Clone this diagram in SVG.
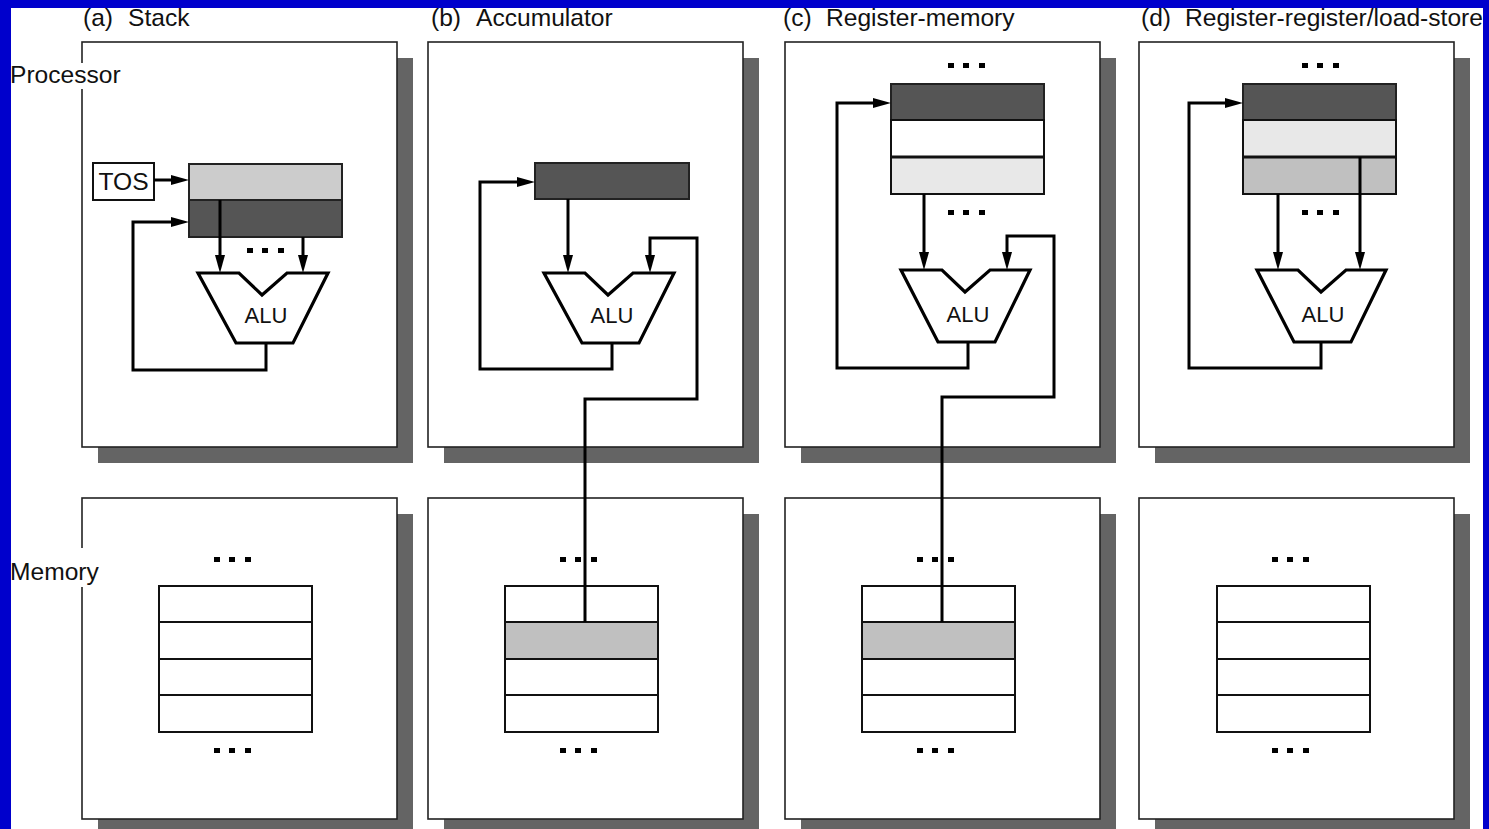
<svg xmlns="http://www.w3.org/2000/svg" width="1489" height="829" viewBox="0 0 1489 829">
  <defs>
    <style>
      .frame { fill: #0000cc; }
      .shadow { fill: #646464; }
      .box { fill: #ffffff; stroke: #222222; stroke-width: 1.6; }
      .cell { fill: #ffffff; stroke: #111111; stroke-width: 2; }
      .dark { fill: #555555; stroke: #222222; stroke-width: 2; }
      .light { fill: #cccccc; stroke: #222222; stroke-width: 2; }
      .pale { fill: #e8e8e8; stroke: #111111; stroke-width: 2; }
      .mid { fill: #c0c0c0; stroke: #111111; stroke-width: 2; }
      .sep { stroke: #111111; stroke-width: 3; }
      .alu { fill: #ffffff; stroke: #000000; stroke-width: 3.2; stroke-linejoin: miter; }
      .wire { fill: none; stroke: #000000; stroke-width: 3; stroke-linejoin: miter; }
      .dot { fill: #000000; }
      .label { font-family: "Liberation Sans", Arial, Helvetica, sans-serif; font-size: 24.6px; fill: #111111; }
      .alutext { font-family: "Liberation Sans", Arial, Helvetica, sans-serif; font-size: 22px; fill: #111111; text-anchor: middle; }
      .gap { fill: #ffffff; }
    </style>
    <marker id="head" markerUnits="userSpaceOnUse" markerWidth="20" markerHeight="12" viewBox="0 0 20 12" refX="1" refY="6" orient="auto">
      <path d="M0,1 L18,6 L0,11 z" fill="#000000"/>
    </marker>
    <g id="dots3">
      <rect class="dot" x="0" y="0" width="6" height="5"/>
      <rect class="dot" x="15" y="0" width="6" height="5"/>
      <rect class="dot" x="31" y="0" width="6" height="5"/>
    </g>
  </defs>

  <rect x="0" y="0" width="1489" height="829" fill="#ffffff"/>

  <!-- shadows and outer boxes -->
  <g id="processor-a">
    <rect class="shadow" x="98" y="58" width="315" height="405"/>
    <rect class="box" x="82" y="42" width="315" height="405"/>
  </g>
  <g id="processor-b">
    <rect class="shadow" x="444" y="58" width="315" height="405"/>
    <rect class="box" x="428" y="42" width="315" height="405"/>
  </g>
  <g id="processor-c">
    <rect class="shadow" x="801" y="58" width="315" height="405"/>
    <rect class="box" x="785" y="42" width="315" height="405"/>
  </g>
  <g id="processor-d">
    <rect class="shadow" x="1155" y="58" width="315" height="405"/>
    <rect class="box" x="1139" y="42" width="315" height="405"/>
  </g>
  <g id="memory-a">
    <rect class="shadow" x="98" y="514" width="315" height="321"/>
    <rect class="box" x="82" y="498" width="315" height="321"/>
  </g>
  <g id="memory-b">
    <rect class="shadow" x="444" y="514" width="315" height="321"/>
    <rect class="box" x="428" y="498" width="315" height="321"/>
  </g>
  <g id="memory-c">
    <rect class="shadow" x="801" y="514" width="315" height="321"/>
    <rect class="box" x="785" y="498" width="315" height="321"/>
  </g>
  <g id="memory-d">
    <rect class="shadow" x="1155" y="514" width="315" height="321"/>
    <rect class="box" x="1139" y="498" width="315" height="321"/>
  </g>

  <!-- titles and row labels -->
  <g id="titles">
    <text class="label" x="83" y="26">(a)<tspan x="128">Stack</tspan></text>
    <text class="label" x="431" y="26">(b)<tspan x="476">Accumulator</tspan></text>
    <text class="label" x="783" y="26">(c)<tspan x="826">Register-memory</tspan></text>
    <text class="label" x="1141" y="26">(d)<tspan x="1185">Register-register/load-store</tspan></text>
  </g>
  <g id="row-processor">
    <rect class="gap" x="78" y="63" width="8" height="26"/>
    <text class="label" x="10" y="83">Processor</text>
  </g>
  <g id="row-memory">
    <rect class="gap" x="78" y="548" width="8" height="39"/>
    <text class="label" x="10" y="580">Memory</text>
  </g>

  <!-- (a) stack machine -->
  <g id="tos">
    <rect class="cell" x="93" y="163" width="61" height="37"/>
    <text class="label" x="123.5" y="190" text-anchor="middle">TOS</text>
  </g>
  <g id="stack-a">
    <rect class="light" x="189" y="164" width="153" height="36"/>
    <rect class="dark" x="189" y="200" width="153" height="37"/>
    <use href="#dots3" x="247" y="248"/>
  </g>
  <g id="alu-a">
    <polygon class="alu" points="198,273 239,273 262,295 287,273 328,273 293,343 236,343"/>
    <text class="alutext" x="266" y="323">ALU</text>
  </g>
  <g id="cells-a">
    <use href="#dots3" x="214" y="557"/>
    <rect class="cell" x="159" y="586" width="153" height="36"/>
    <rect class="cell" x="159" y="622" width="153" height="37"/>
    <rect class="cell" x="159" y="659" width="153" height="36"/>
    <rect class="cell" x="159" y="695" width="153" height="37"/>
    <use href="#dots3" x="214" y="748"/>
  </g>

  <!-- (b) accumulator machine -->
  <g id="acc-b">
    <rect class="dark" x="535" y="163" width="154" height="36"/>
  </g>
  <g id="alu-b">
    <polygon class="alu" points="544,273 585,273 608,295 633,273 674,273 639,343 582,343"/>
    <text class="alutext" x="612" y="323">ALU</text>
  </g>
  <g id="cells-b">
    <use href="#dots3" x="560" y="557"/>
    <rect class="cell" x="505" y="586" width="153" height="36"/>
    <rect class="mid" x="505" y="622" width="153" height="37"/>
    <rect class="cell" x="505" y="659" width="153" height="36"/>
    <rect class="cell" x="505" y="695" width="153" height="37"/>
    <use href="#dots3" x="560" y="748"/>
  </g>

  <!-- (c) register-memory machine -->
  <g id="regs-c">
    <use href="#dots3" x="948" y="63"/>
    <rect class="dark" x="891" y="84" width="153" height="36"/>
    <rect class="cell" x="891" y="120" width="153" height="37"/>
    <rect class="pale" x="891" y="157" width="153" height="37"/>
    <line class="sep" x1="891" y1="157" x2="1044" y2="157"/>
    <use href="#dots3" x="948" y="210"/>
  </g>
  <g id="alu-c">
    <polygon class="alu" points="901,270 942,270 965,292 990,270 1030,270 995,342 938,342"/>
    <text class="alutext" x="968" y="322">ALU</text>
  </g>
  <g id="cells-c">
    <use href="#dots3" x="917" y="557"/>
    <rect class="cell" x="862" y="586" width="153" height="36"/>
    <rect class="mid" x="862" y="622" width="153" height="37"/>
    <rect class="cell" x="862" y="659" width="153" height="36"/>
    <rect class="cell" x="862" y="695" width="153" height="37"/>
    <use href="#dots3" x="917" y="748"/>
  </g>

  <!-- (d) load-store machine -->
  <g id="regs-d">
    <use href="#dots3" x="1302" y="63"/>
    <rect class="dark" x="1243" y="84" width="153" height="36"/>
    <rect class="pale" x="1243" y="120" width="153" height="37"/>
    <rect class="mid" x="1243" y="157" width="153" height="37"/>
    <line class="sep" x1="1243" y1="157" x2="1396" y2="157"/>
    <use href="#dots3" x="1302" y="210"/>
  </g>
  <g id="alu-d">
    <polygon class="alu" points="1257,270 1298,270 1321,292 1346,270 1386,270 1351,342 1294,342"/>
    <text class="alutext" x="1323" y="322">ALU</text>
  </g>
  <g id="cells-d">
    <use href="#dots3" x="1272" y="557"/>
    <rect class="cell" x="1217" y="586" width="153" height="36"/>
    <rect class="cell" x="1217" y="622" width="153" height="37"/>
    <rect class="cell" x="1217" y="659" width="153" height="36"/>
    <rect class="cell" x="1217" y="695" width="153" height="37"/>
    <use href="#dots3" x="1272" y="748"/>
  </g>

  <!-- data paths -->
  <g id="connectors">
    <!-- (a) -->
    <path class="wire" d="M154,180 H172" marker-end="url(#head)"/>
    <path class="wire" d="M220,200 V256" marker-end="url(#head)"/>
    <path class="wire" d="M303,237 V256" marker-end="url(#head)"/>
    <path class="wire" d="M266,343 V370 H133 V222 H172" marker-end="url(#head)"/>
    <!-- (b) -->
    <path class="wire" d="M568,199 V256" marker-end="url(#head)"/>
    <path class="wire" d="M612,343 V369 H480 V182 H518" marker-end="url(#head)"/>
    <path class="wire" d="M585,622 V399 H697 V238 H650 V256" marker-end="url(#head)"/>
    <!-- (c) -->
    <path class="wire" d="M924,194 V253" marker-end="url(#head)"/>
    <path class="wire" d="M968,342 V368 H837 V103 H874" marker-end="url(#head)"/>
    <path class="wire" d="M942,622 V397 H1054 V236 H1007 V253" marker-end="url(#head)"/>
    <!-- (d) -->
    <path class="wire" d="M1278,194 V253" marker-end="url(#head)"/>
    <path class="wire" d="M1360,157 V253" marker-end="url(#head)"/>
    <path class="wire" d="M1321,342 V368 H1189 V103 H1226" marker-end="url(#head)"/>
  </g>

  <!-- slide frame -->
  <g id="frame">
    <rect class="frame" x="0" y="0" width="1489" height="8"/>
    <rect class="frame" x="0" y="0" width="11" height="829"/>
    <rect class="frame" x="1483" y="0" width="6" height="829"/>
  </g>
</svg>
